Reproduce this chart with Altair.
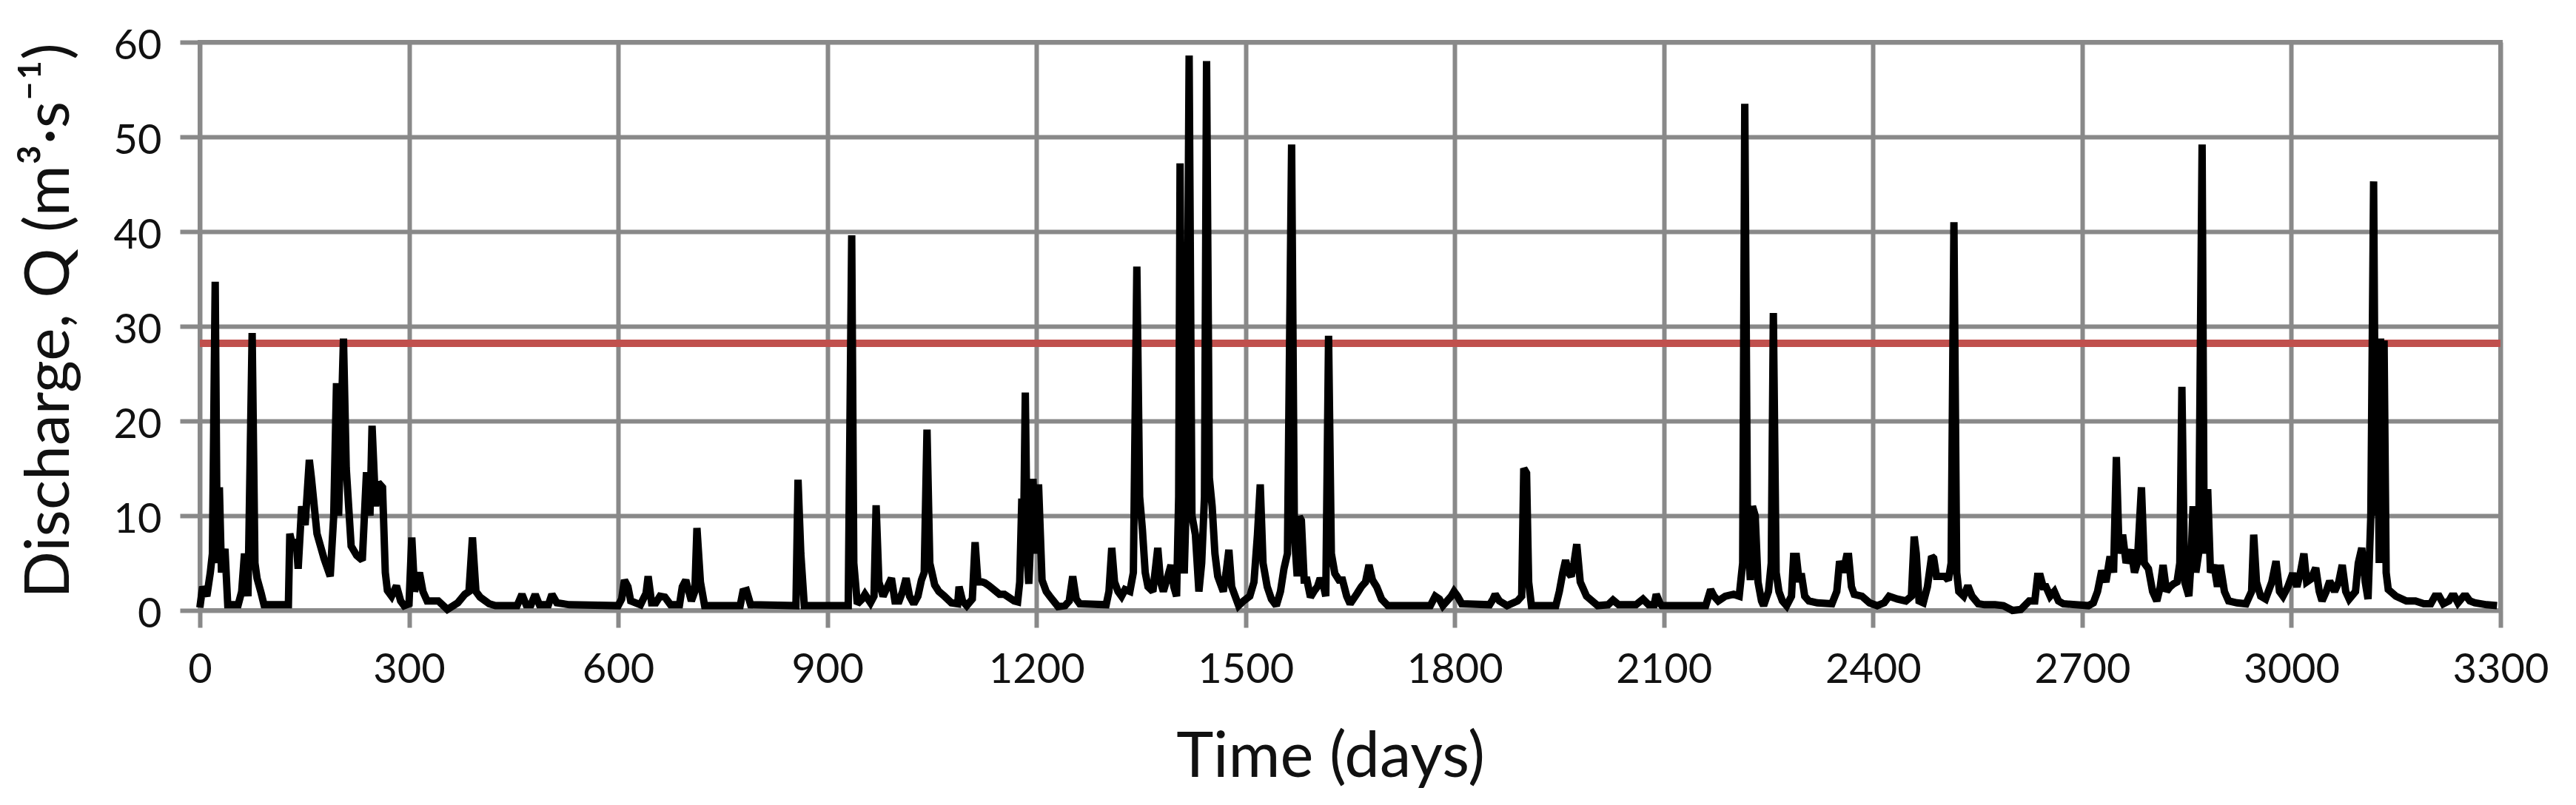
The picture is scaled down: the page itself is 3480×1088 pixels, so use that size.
import altair as alt
import pandas as pd

# Discharge series (day, Q in m3/s)
days = [
    0, 4, 10, 15, 18, 22, 25, 28, 31, 36, 40, 55, 60, 64, 69, 75, 79, 82, 88, 92,
    127, 129, 134, 138, 141, 146, 151, 157, 160, 168, 178, 187, 192, 196, 199, 206, 210, 217, 225, 233,
    239, 244, 247, 252, 256, 262, 266, 269, 275, 282, 288, 293, 300, 304, 308, 315, 320, 326, 342, 355,
    370, 380, 386, 391, 396, 402, 415, 424, 455, 462, 468, 475, 481, 487, 500, 505, 512, 530, 600, 605,
    609, 614, 618, 632, 640, 643, 648, 654, 660, 667, 675, 688, 692, 697, 705, 710, 713, 718, 724, 775,
    779, 784, 790, 855, 858, 862, 867, 930, 935, 938, 943, 950, 954, 962, 967, 970, 974, 980, 992, 997,
    1003, 1008, 1013, 1018, 1024, 1030, 1035, 1039, 1043, 1047, 1054, 1060, 1068, 1078, 1087, 1089, 1094, 1100, 1108, 1112,
    1116, 1122, 1126, 1132, 1147, 1154, 1168, 1173, 1176, 1179, 1181, 1184, 1187, 1189, 1192, 1195, 1199, 1203, 1208, 1214,
    1219, 1231, 1241, 1247, 1252, 1257, 1262, 1300, 1304, 1308, 1312, 1317, 1322, 1327, 1334, 1339, 1344, 1348, 1352, 1356,
    1360, 1367, 1374, 1378, 1382, 1388, 1393, 1397, 1401, 1404, 1406, 1409, 1412, 1415, 1419, 1423, 1428, 1433, 1437, 1441,
    1444, 1448, 1452, 1456, 1460, 1468, 1472, 1476, 1480, 1490, 1497, 1506, 1512, 1517, 1521, 1525, 1531, 1537, 1544, 1550,
    1555, 1560, 1566, 1570, 1574, 1577, 1580, 1584, 1588, 1593, 1598, 1603, 1607, 1612, 1615, 1619, 1623, 1628, 1634, 1639,
    1645, 1650, 1660, 1666, 1672, 1677, 1682, 1688, 1695, 1704, 1765, 1772, 1778, 1783, 1795, 1799, 1804, 1810, 1850, 1855,
    1858, 1864, 1875, 1890, 1896, 1899, 1903, 1906, 1910, 1945, 1950, 1955, 1959, 1963, 1967, 1971, 1975, 1980, 1989, 2005,
    2020, 2027, 2035, 2060, 2070, 2078, 2086, 2089, 2094, 2097, 2160, 2167, 2172, 2178, 2188, 2200, 2208, 2213, 2216, 2220,
    2224, 2227, 2231, 2235, 2240, 2243, 2250, 2254, 2257, 2261, 2265, 2270, 2276, 2283, 2286, 2290, 2294, 2297, 2302, 2308,
    2320, 2341, 2348, 2352, 2357, 2362, 2365, 2369, 2373, 2384, 2395, 2406, 2416, 2423, 2435, 2447, 2455, 2459, 2462, 2466,
    2472, 2478, 2484, 2487, 2491, 2496, 2503, 2508, 2512, 2516, 2520, 2523, 2530, 2536, 2542, 2551, 2560, 2575, 2587, 2600,
    2612, 2624, 2632, 2636, 2640, 2644, 2648, 2654, 2660, 2666, 2673, 2709, 2716, 2722, 2728, 2734, 2740, 2745, 2749, 2753,
    2758, 2763, 2770, 2775, 2779, 2785, 2789, 2795, 2801, 2807, 2812, 2816, 2821, 2826, 2831, 2836, 2840, 2843, 2847, 2853,
    2856, 2859, 2863, 2867, 2872, 2875, 2880, 2884, 2889, 2894, 2898, 2904, 2910, 2922, 2935, 2943, 2946, 2950, 2956, 2963,
    2972, 2978, 2983, 2988, 2995, 3002, 3008, 3013, 3018, 3022, 3028, 3035, 3040, 3044, 3050, 3055, 3062, 3068, 3073, 3078,
    3083, 3092, 3096, 3101, 3106, 3110, 3114, 3118, 3121, 3123, 3126, 3128, 3130, 3133, 3136, 3139, 3150, 3165, 3178, 3190,
    3200, 3206, 3212, 3218, 3226, 3230, 3234, 3239, 3247, 3251, 3256, 3263, 3280, 3295,
]
discharge = [
    0.3, 2.5, 1.5, 4, 6, 34.7, 5, 13, 4, 6.5, 0.6, 0.6, 2, 6, 1.5, 29.3, 5, 3.4, 1.8, 0.6,
    0.6, 8.1, 6.5, 7.5, 4.4, 11, 9, 15.9, 14, 8.1, 5.5, 3.6, 10, 24, 10, 28.7, 15, 6.8, 5.8, 5.3,
    14.6, 10, 19.5, 11, 13.5, 13, 4, 2.1, 1.5, 2.6, 1, 0.5, 0.7, 7.7, 2, 4, 2, 1, 1, 0.1,
    0.8, 1.7, 2, 7.7, 2, 1.4, 0.7, 0.5, 0.5, 1.7, 0.6, 0.6, 1.7, 0.6, 0.6, 1.7, 0.8, 0.6, 0.5, 1.2,
    3.2, 2.5, 1, 0.6, 1.8, 3.6, 0.8, 0.8, 1.5, 1.4, 0.6, 0.6, 2.5, 3.2, 1, 2, 8.7, 3, 0.5, 0.5,
    2, 2.1, 0.6, 0.5, 13.8, 6, 0.5, 0.5, 39.6, 5, 0.7, 1.2, 1.7, 0.8, 1.5, 11.1, 3, 1.5, 3.4, 1,
    1, 2, 3.4, 1.5, 0.7, 1.5, 3.2, 4, 19.1, 5, 2.7, 2, 1.5, 0.8, 0.7, 2.5, 1, 0.5, 1.2, 7.2,
    3, 3, 2.9, 2.6, 1.7, 1.7, 1, 0.9, 3, 11.8, 5, 23, 5, 2.8, 8, 13.9, 6, 13.3, 3.2, 2,
    1.5, 0.4, 0.5, 1, 3.6, 1.2, 0.7, 0.6, 2, 6.6, 3, 2, 1.5, 2.2, 2, 4, 36.3, 12, 8.5, 4,
    2.5, 2, 6.6, 3, 2, 3.5, 4.8, 2.5, 1.5, 12, 47.2, 10, 3.9, 12, 58.6, 10, 8, 2, 5, 12,
    58, 14, 11, 6, 3.6, 2, 4, 6.4, 2.5, 0.5, 1, 1.5, 3, 8, 13.3, 5, 2.5, 1.2, 0.5, 2,
    4.4, 6, 49.2, 8, 3.6, 9.9, 9.5, 3.2, 3.2, 1.4, 2, 2.5, 3.4, 2.5, 1.5, 29, 6, 3.9, 3.2, 3.2,
    1.5, 0.7, 1.8, 2.5, 3, 4.8, 3.2, 2.5, 1.2, 0.5, 0.5, 1.5, 1.2, 0.5, 1.5, 2, 1.5, 0.7, 0.6, 1.2,
    1.7, 1, 0.5, 1, 1.5, 15, 14.5, 3, 0.5, 0.5, 2, 4, 5.3, 4, 3.6, 5, 7, 3, 1.5, 0.5,
    0.6, 1.1, 0.6, 0.6, 1.2, 0.6, 0.6, 1.7, 0.8, 0.5, 0.5, 2.2, 1.5, 1, 1.5, 1.7, 1.5, 5, 53.5, 8,
    3.2, 11, 10, 3, 1, 0.5, 2, 5, 31.4, 4, 2, 1, 0.5, 1.5, 5.7, 5.7, 3, 3.9, 1.5, 1,
    0.8, 0.7, 2, 5.2, 4, 5.7, 5.7, 2.5, 1.7, 1.5, 0.8, 0.5, 0.8, 1.5, 1.2, 1, 1.5, 7.8, 6, 1,
    0.8, 2.5, 5.7, 5.5, 3.6, 3.6, 3.6, 3.2, 5, 41, 4, 2, 1.5, 2.6, 1.5, 0.7, 0.6, 0.6, 0.5, 0,
    0.1, 1, 1, 3.6, 3.6, 2.5, 2.5, 1.5, 2, 1, 0.7, 0.5, 0.8, 2, 4.2, 3, 5.7, 4, 16.2, 6,
    8, 5, 6.4, 4, 5, 13, 5, 4.4, 2, 1, 2.5, 4.8, 2, 2.5, 2.8, 3, 5, 23.6, 3, 1.5,
    5, 11, 4, 6, 49.2, 6, 12.8, 4, 4.8, 2.5, 4.8, 2, 1, 0.8, 0.7, 2, 8, 3, 1.5, 1.2,
    3, 5.2, 2, 1.5, 2.5, 3.9, 2.5, 4, 6, 3, 3.3, 4.5, 2, 1, 2, 3.1, 2, 3, 4.8, 2,
    1.2, 2, 5, 6.6, 3, 1.2, 10, 45.3, 10, 28.7, 5, 28.7, 6, 28.5, 4, 2.2, 1.5, 1, 1, 0.7,
    0.7, 1.5, 1.5, 0.7, 1, 1.5, 1.5, 0.8, 1.5, 1.5, 1, 0.8, 0.6, 0.5,
]

threshold = [28.2]
threshold_span = [0, 3300]

x_ticks = list(range(0, 3301, 300))
y_ticks = list(range(0, 61, 10))

series = pd.DataFrame({"day": days, "Q": discharge})
limit = pd.DataFrame({"start": [threshold_span[0]], "end": [threshold_span[1]], "Q": threshold})

GRID = "#898989"
FONT = "Lato"

x_scale = alt.Scale(domain=[0, 3300], nice=False, zero=False)
y_scale = alt.Scale(domain=[0, 60], nice=False)

red = alt.Chart(limit).mark_rule(color="#C0504D", strokeWidth=10).encode(
    x=alt.X("start:Q", scale=x_scale,
            axis=alt.Axis(values=x_ticks, title="Time (days)", format="d",
                          grid=True, gridColor=GRID, gridWidth=6, gridOpacity=1,
                          domain=False, ticks=True, tickColor=GRID, tickWidth=6, tickSize=23,
                          labelFont=FONT, labelFontSize=56, labelColor="#111111", labelPadding=30,
                          labelFlush=False,
                          titleFont=FONT, titleFontSize=85, titleFontWeight="normal", titleColor="#111111",
                          titleX=1527, titleY=224, titleBaseline="alphabetic", titleAnchor="start",
                          titleAlign="center")),
    x2="end:Q",
    y=alt.Y("Q:Q", scale=y_scale,
            axis=alt.Axis(values=y_ticks, title="Discharge, Q (m³·s⁻¹)",
                          grid=True, gridColor=GRID, gridWidth=6, gridOpacity=1,
                          domain=False, ticks=True, tickColor=GRID, tickWidth=6, tickSize=27,
                          labelFont=FONT, labelFontSize=56, labelColor="#111111", labelPadding=25,
                          labelOffset=5, labelFlush=False,
                          titleFont=FONT, titleFontSize=84, titleFontWeight="normal", titleColor="#111111",
                          titleAngle=270, titleX=-178, titleY=376, titleAlign="center",
                          titleBaseline="alphabetic")),
)

line = alt.Chart(series).mark_line(color="#000000", strokeWidth=10, strokeJoin="miter",
                                   strokeMiterLimit=2).encode(
    x=alt.X("day:Q", scale=x_scale),
    y=alt.Y("Q:Q", scale=y_scale),
)

chart = alt.layer(red, line).properties(
    width=3108,
    height=768,
    autosize=alt.AutoSizeParams(type="none"),
    padding={"left": 262, "top": 49, "right": 90, "bottom": 262},
    background="white",
).configure_view(stroke=GRID, strokeWidth=6)

chart.save("out.html", embed_options={"renderer": "svg", "actions": False})
